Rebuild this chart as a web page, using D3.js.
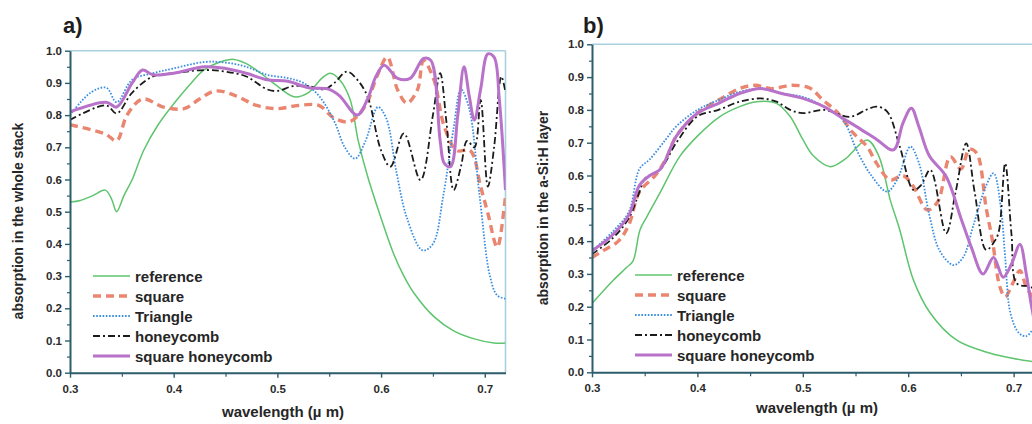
<!DOCTYPE html>
<html>
<head>
<meta charset="utf-8">
<script src="https://cdn.jsdelivr.net/npm/d3@7"></script>
<style>
  html, body { margin: 0; padding: 0; background: #fff; }
  svg { display: block; font-family: "Liberation Sans", Arial, sans-serif; }
</style>
</head>
<body>
<svg id="chart" width="1032" height="424"></svg>
<script>
// Absorption spectra, wavelength in µm -> absorption fraction
// Panel a) absorption in the whole stack
const aReference = [[0.30,0.53],[0.31,0.535],[0.322,0.55],[0.334,0.567],[0.340,0.54],[0.345,0.50],[0.352,0.55],[0.36,0.60],[0.371,0.69],[0.385,0.77],[0.403,0.847],[0.417,0.90],[0.429,0.94],[0.445,0.965],[0.458,0.973],[0.47,0.96],[0.484,0.93],[0.50,0.89],[0.516,0.857],[0.53,0.87],[0.543,0.915],[0.551,0.93],[0.56,0.91],[0.570,0.85],[0.578,0.72],[0.587,0.61],[0.60,0.48],[0.612,0.37],[0.622,0.30],[0.632,0.246],[0.651,0.174],[0.670,0.13],[0.690,0.105],[0.709,0.092],[0.72,0.092]];
const aSquare = [[0.30,0.77],[0.32,0.755],[0.335,0.74],[0.345,0.72],[0.355,0.80],[0.37,0.85],[0.39,0.825],[0.41,0.82],[0.425,0.85],[0.44,0.875],[0.46,0.86],[0.48,0.83],[0.50,0.82],[0.52,0.83],[0.54,0.83],[0.555,0.79],[0.57,0.78],[0.585,0.83],[0.596,0.92],[0.606,0.98],[0.616,0.878],[0.625,0.837],[0.635,0.878],[0.641,0.97],[0.651,0.909],[0.661,0.764],[0.673,0.69],[0.686,0.69],[0.696,0.578],[0.703,0.495],[0.712,0.39],[0.719,0.52],[0.72,0.55]];
const aTriangle = [[0.30,0.80],[0.32,0.87],[0.335,0.885],[0.345,0.84],[0.36,0.91],[0.38,0.93],[0.40,0.945],[0.43,0.965],[0.45,0.963],[0.47,0.95],[0.49,0.925],[0.51,0.915],[0.525,0.90],[0.54,0.86],[0.555,0.78],[0.565,0.70],[0.575,0.665],[0.585,0.72],[0.597,0.825],[0.605,0.79],[0.615,0.62],[0.625,0.48],[0.64,0.38],[0.65,0.40],[0.66,0.55],[0.67,0.76],[0.677,0.88],[0.685,0.82],[0.695,0.55],[0.705,0.30],[0.712,0.24],[0.72,0.23]];
const aHoneycomb = [[0.30,0.785],[0.335,0.83],[0.345,0.805],[0.36,0.87],[0.38,0.92],[0.40,0.93],[0.43,0.94],[0.45,0.935],[0.47,0.92],[0.49,0.88],[0.50,0.875],[0.515,0.89],[0.53,0.89],[0.545,0.88],[0.555,0.90],[0.567,0.935],[0.577,0.91],[0.587,0.857],[0.60,0.69],[0.609,0.64],[0.622,0.743],[0.638,0.598],[0.650,0.80],[0.657,0.93],[0.663,0.78],[0.670,0.567],[0.677,0.64],[0.683,0.72],[0.69,0.70],[0.696,0.847],[0.703,0.578],[0.709,0.70],[0.716,0.92],[0.72,0.87]];
const aSquareHoneycomb = [[0.30,0.81],[0.335,0.84],[0.345,0.825],[0.36,0.90],[0.37,0.94],[0.38,0.925],[0.40,0.93],[0.43,0.95],[0.45,0.945],[0.47,0.93],[0.49,0.91],[0.51,0.905],[0.53,0.885],[0.55,0.88],[0.56,0.86],[0.577,0.80],[0.587,0.85],[0.595,0.92],[0.603,0.955],[0.616,0.914],[0.628,0.914],[0.641,0.976],[0.648,0.97],[0.657,0.72],[0.661,0.65],[0.667,0.64],[0.674,0.80],[0.68,0.95],[0.685,0.86],[0.69,0.785],[0.696,0.88],[0.703,0.99],[0.709,0.98],[0.714,0.85],[0.72,0.567]];

// Panel b) absorption in the a-Si:H layer
const bReference = [[0.30,0.21],[0.32,0.28],[0.333,0.32],[0.339,0.34],[0.3455,0.434],[0.352,0.474],[0.365,0.55],[0.383,0.657],[0.40,0.72],[0.421,0.779],[0.44,0.81],[0.456,0.825],[0.475,0.82],[0.488,0.78],[0.50,0.71],[0.51,0.66],[0.526,0.627],[0.54,0.65],[0.561,0.708],[0.572,0.66],[0.583,0.525],[0.592,0.434],[0.605,0.281],[0.621,0.18],[0.646,0.098],[0.678,0.058],[0.70,0.042],[0.72,0.032]];
const bSquare = [[0.30,0.35],[0.31,0.37],[0.325,0.40],[0.335,0.45],[0.345,0.55],[0.36,0.60],[0.37,0.65],[0.38,0.72],[0.40,0.79],[0.42,0.83],[0.44,0.865],[0.455,0.875],[0.47,0.865],[0.49,0.875],[0.507,0.866],[0.519,0.83],[0.532,0.795],[0.548,0.729],[0.561,0.688],[0.57,0.637],[0.583,0.586],[0.595,0.60],[0.605,0.566],[0.618,0.495],[0.628,0.52],[0.64,0.657],[0.65,0.62],[0.658,0.68],[0.665,0.668],[0.674,0.50],[0.68,0.40],[0.687,0.26],[0.692,0.23],[0.699,0.27],[0.706,0.31],[0.712,0.26],[0.72,0.22]];
const bTriangle = [[0.30,0.37],[0.32,0.43],[0.335,0.49],[0.345,0.62],[0.355,0.65],[0.37,0.71],[0.38,0.75],[0.40,0.80],[0.42,0.83],[0.44,0.855],[0.46,0.865],[0.48,0.85],[0.50,0.84],[0.52,0.81],[0.538,0.77],[0.551,0.678],[0.565,0.60],[0.58,0.551],[0.59,0.59],[0.602,0.688],[0.61,0.64],[0.62,0.48],[0.63,0.37],[0.643,0.327],[0.652,0.35],[0.662,0.45],[0.674,0.57],[0.681,0.607],[0.688,0.50],[0.692,0.35],[0.697,0.18],[0.705,0.12],[0.712,0.11],[0.72,0.14]];
const bHoneycomb = [[0.30,0.36],[0.32,0.41],[0.335,0.47],[0.345,0.55],[0.35,0.59],[0.365,0.62],[0.38,0.70],[0.40,0.78],[0.42,0.80],[0.44,0.825],[0.46,0.835],[0.475,0.825],[0.488,0.80],[0.50,0.79],[0.52,0.80],[0.545,0.779],[0.56,0.80],[0.57,0.81],[0.58,0.795],[0.592,0.688],[0.605,0.556],[0.612,0.57],[0.621,0.617],[0.636,0.424],[0.645,0.55],[0.655,0.698],[0.663,0.55],[0.674,0.373],[0.682,0.40],[0.686,0.43],[0.692,0.637],[0.698,0.42],[0.703,0.271],[0.716,0.261],[0.72,0.25]];
const bSquareHoneycomb = [[0.30,0.37],[0.32,0.42],[0.335,0.48],[0.345,0.57],[0.355,0.60],[0.365,0.62],[0.38,0.72],[0.40,0.79],[0.42,0.82],[0.44,0.85],[0.46,0.865],[0.48,0.85],[0.50,0.835],[0.52,0.81],[0.535,0.78],[0.551,0.749],[0.57,0.71],[0.586,0.678],[0.595,0.76],[0.603,0.805],[0.61,0.75],[0.62,0.66],[0.636,0.597],[0.65,0.47],[0.66,0.38],[0.671,0.30],[0.681,0.35],[0.69,0.29],[0.698,0.33],[0.706,0.39],[0.712,0.30],[0.716,0.22],[0.72,0.15]];

const seriesNames = ["reference", "square", "Triangle", "honeycomb", "square honeycomb"];
const yTickValues = [0, 0.1, 0.2, 0.3, 0.4, 0.5, 0.6, 0.7, 0.8, 0.9, 1.0];
const xTickValues = [0.3, 0.4, 0.5, 0.6, 0.7];

// line styling for each series, in legend order
const styles = [
  { color: "#5ec46e", width: 1.5, dash: null },
  { color: "#ea8570", width: 3.4, dash: "8,5" },
  { color: "#3a8ee0", width: 1.8, dash: "1.6,1.6" },
  { color: "#1b1b1b", width: 1.8, dash: "7,3,2,3" },
  { color: "#b872c9", width: 3, dash: null }
];

const svg = d3.select("#chart");
const axisColor = "#2c5d6b";
const frameColor = "#a9d0de";

function drawPanel(cfg) {
  const { x0, x1, yTop, yBot, series, label, labelX, yTitle, yTitleX, yTitleY, xTitleX, xTitleY, legendX, legendY, clipId } = cfg;
  const x = d3.scaleLinear().domain([0.3, 0.72]).range([x0, x1]);
  const y = d3.scaleLinear().domain([0, 1]).range([yBot, yTop]);
  const g = svg.append("g");

  // frame (top and right)
  g.append("line").attr("x1", x0).attr("x2", Math.min(x1, 1032)).attr("y1", yTop).attr("y2", yTop)
    .attr("stroke", frameColor).attr("stroke-width", 1.6);
  if (x1 < 1032) {
    g.append("line").attr("x1", x1).attr("x2", x1).attr("y1", yTop).attr("y2", yBot)
      .attr("stroke", frameColor).attr("stroke-width", 1.6);
  }

  svg.append("clipPath").attr("id", clipId).append("rect")
    .attr("x", x0).attr("y", yTop - 2).attr("width", x1 - x0).attr("height", yBot - yTop + 2);

  const line = d3.line().x(d => x(d[0])).y(d => y(d[1])).curve(d3.curveCatmullRom.alpha(0.5));
  const lines = g.append("g").attr("clip-path", `url(#${clipId})`);
  series.forEach((data, i) => {
    const s = styles[i];
    lines.append("path").attr("d", line(data)).attr("fill", "none")
      .attr("stroke", s.color).attr("stroke-width", s.width)
      .attr("stroke-dasharray", s.dash).attr("stroke-linejoin", "round");
  });

  // y axis with minor ticks
  const yMinor = d3.range(0.05, 1, 0.1);
  g.append("g").attr("transform", `translate(${x0},0)`)
    .call(d3.axisLeft(y).tickValues(yMinor).tickSize(3).tickFormat(""))
    .call(a => a.select(".domain").remove())
    .call(a => a.selectAll("line").attr("stroke", axisColor).attr("stroke-width", 1.2));
  const yAxis = g.append("g").attr("transform", `translate(${x0},0)`)
    .call(d3.axisLeft(y).tickValues(yTickValues).tickSize(5).tickSizeOuter(0).tickPadding(3).tickFormat(d3.format(".1f")));
  yAxis.select(".domain").attr("stroke", axisColor).attr("stroke-width", 2);
  yAxis.selectAll("line").attr("stroke", axisColor).attr("stroke-width", 1.4);
  yAxis.selectAll("text").attr("fill", "#2b2b2b").attr("font-size", 11.5).attr("font-weight", "bold")
    .attr("font-family", "Liberation Sans, Arial, sans-serif");

  // x axis with minor ticks
  const xMinor = [0.35, 0.45, 0.55, 0.65];
  g.append("g").attr("transform", `translate(0,${yBot})`)
    .call(d3.axisBottom(x).tickValues(xMinor).tickSize(4).tickFormat(""))
    .call(a => a.select(".domain").remove())
    .call(a => a.selectAll("line").attr("stroke", axisColor).attr("stroke-width", 1.2));
  const xAxis = g.append("g").attr("transform", `translate(0,${yBot})`)
    .call(d3.axisBottom(x).tickValues(xTickValues).tickSize(5).tickSizeOuter(0).tickPadding(7).tickFormat(d3.format(".1f")));
  xAxis.select(".domain").attr("stroke", axisColor).attr("stroke-width", 2);
  xAxis.selectAll("line").attr("stroke", axisColor).attr("stroke-width", 1.4);
  xAxis.selectAll("text").attr("fill", "#2b2b2b").attr("font-size", 11.5).attr("font-weight", "bold")
    .attr("font-family", "Liberation Sans, Arial, sans-serif");

  // titles
  g.append("text").attr("x", labelX).attr("y", 33).text(label)
    .attr("font-size", 22).attr("font-weight", "bold").attr("fill", "#1e1e1e");
  g.append("text").attr("transform", `translate(${yTitleX},${yTitleY}) rotate(-90)`)
    .attr("text-anchor", "middle").text(yTitle)
    .attr("font-size", 14).attr("font-weight", "bold").attr("fill", "#262626");
  g.append("text").attr("x", xTitleX).attr("y", xTitleY).attr("text-anchor", "middle")
    .text("wavelength (\u00b5 m)")
    .attr("font-size", 15).attr("font-weight", "bold").attr("fill", "#262626");

  // legend
  const leg = g.append("g").attr("transform", `translate(${legendX},${legendY})`);
  seriesNames.forEach((name, i) => {
    const s = styles[i];
    const row = leg.append("g").attr("transform", `translate(0,${i * 20})`);
    row.append("line").attr("x1", 0).attr("x2", 37).attr("y1", 0).attr("y2", 0)
      .attr("stroke", s.color).attr("stroke-width", s.width).attr("stroke-dasharray", s.dash);
    row.append("text").attr("x", 42).attr("y", 5.5).text(name)
      .attr("font-size", 15).attr("font-weight", "bold").attr("fill", "#262626");
  });
}

drawPanel({
  x0: 70, x1: 505.5, yTop: 50.7, yBot: 372.7,
  series: [aReference, aSquare, aTriangle, aHoneycomb, aSquareHoneycomb],
  label: "a)", labelX: 63,
  yTitle: "absorption in the whole stack", yTitleX: 23, yTitleY: 221,
  xTitleX: 283, xTitleY: 417,
  legendX: 93, legendY: 276, clipId: "clipA"
});

drawPanel({
  x0: 592, x1: 1034.7, yTop: 44.3, yBot: 372.3,
  series: [bReference, bSquare, bTriangle, bHoneycomb, bSquareHoneycomb],
  label: "b)", labelX: 583,
  yTitle: "absorption in the a-Si:H layer", yTitleX: 548, yTitleY: 208,
  xTitleX: 817, xTitleY: 413,
  legendX: 635, legendY: 275, clipId: "clipB"
});
</script>
</body>
</html>
